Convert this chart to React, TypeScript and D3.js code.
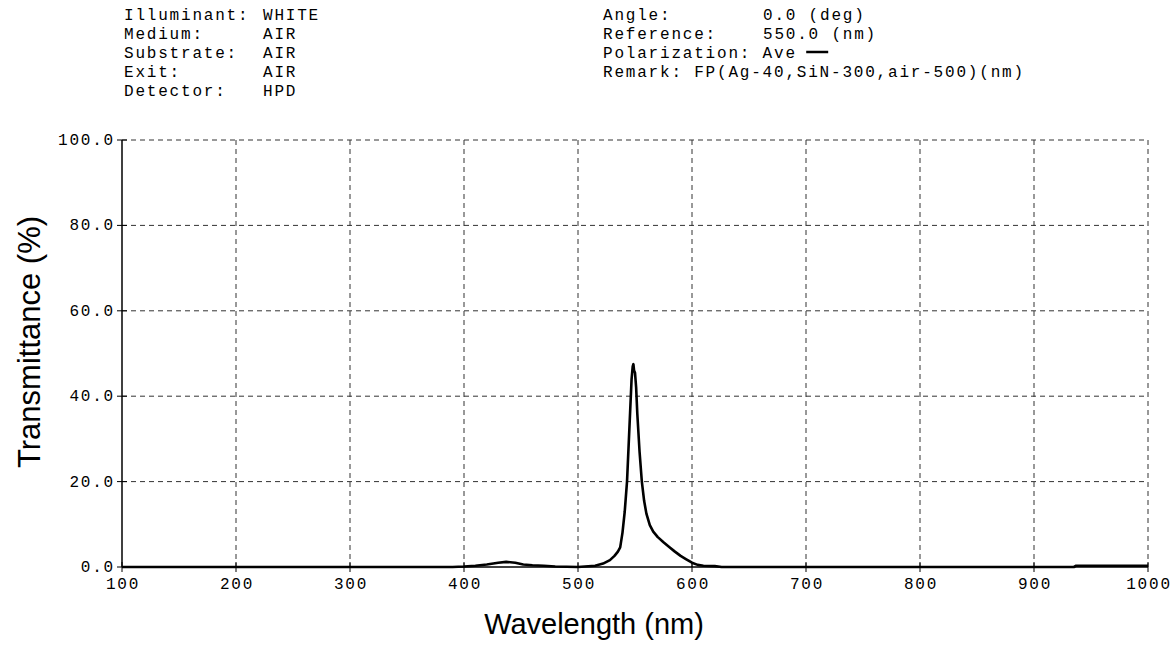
import React from "react";
import * as d3 from "d3";

const wavelengths = [100, 200, 300, 390, 400, 410, 420, 430, 437, 445, 452, 460, 470, 480, 500, 515, 522, 528, 532, 535, 537, 539, 541, 543, 545, 547, 548, 548.6, 549.2, 550, 551, 552, 554, 556, 558, 560, 563, 566, 570, 575, 580, 585, 590, 595, 600, 605, 610, 620, 626, 700, 800, 900, 935, 937, 1000];
const transmittance = [0, 0, 0, 0, 0.1, 0.3, 0.6, 1.0, 1.2, 1.0, 0.6, 0.4, 0.3, 0.1, 0, 0.3, 0.8, 1.6, 2.6, 3.6, 4.6, 8, 13, 20, 32, 44, 47, 47.5, 46, 45.5, 42, 36, 27, 20, 15.5, 12.5, 9.8, 8.3, 7, 5.8, 4.7, 3.6, 2.6, 1.8, 1.0, 0.5, 0.3, 0.2, 0, 0, 0, 0, 0, 0.3, 0.3];

const xTicks = [100, 200, 300, 400, 500, 600, 700, 800, 900, 1000];
const yTicks = [0, 20, 40, 60, 80, 100];

const headerLeft = [
  ["Illuminant:", "WHITE"],
  ["Medium:", "AIR"],
  ["Substrate:", "AIR"],
  ["Exit:", "AIR"],
  ["Detector:", "HPD"],
];
const headerRight = [
  ["Angle:", "0.0 (deg)"],
  ["Reference:", "550.0 (nm)"],
  ["Polarization:", "Ave"],
  ["Remark:", "FP(Ag-40,SiN-300,air-500)(nm)"],
];

const W = 1176;
const H = 660;
const L = 122, R = 1148, T = 140, B = 567;
const CW = 11.4;
const mono: React.CSSProperties = { fontFamily: "'Liberation Mono', monospace", fontSize: 16, letterSpacing: 1.8 };
const sans = "'Liberation Sans', Arial, sans-serif";

export default function App() {
  const x = d3.scaleLinear().domain([100, 1000]).range([L, R]);
  const y = d3.scaleLinear().domain([0, 100]).range([B, T]);
  const line = d3.line<number>().x((_, i) => x(wavelengths[i])).y((d) => y(d));
  const path = line(transmittance) || "";
  const rowY = [20, 39, 58, 77, 96];

  return (
    <svg width={W} height={H} style={{ position: "absolute", left: 0, top: 0, background: "#fff" }}>
      {headerLeft.map((r, i) => (
        <g key={"l" + i} style={mono} fill="#000">
          <text x={124} y={rowY[i]}>{r[0]}</text>
          <text x={263} y={rowY[i]}>{r[1]}</text>
        </g>
      ))}
      {headerRight.map((r, i) => (
        <g key={"r" + i} style={mono} fill="#000">
          <text x={603} y={rowY[i]}>{r[0]}</text>
          <text x={i === 3 ? 603 + 8 * CW : i === 2 ? 603 + 14 * CW : 763} y={rowY[i]}>{r[1]}</text>
        </g>
      ))}
      <line x1={603 + 18 * CW - 2} x2={603 + 18 * CW + 20} y1={rowY[2] - 6} y2={rowY[2] - 6} stroke="#000" strokeWidth={2.5} />

      {/* grid */}
      {xTicks.slice(1).map((t) => (
        <line key={"gx" + t} x1={x(t)} x2={x(t)} y1={T} y2={B} stroke="#333" strokeDasharray="5,4" strokeWidth={1} />
      ))}
      {yTicks.slice(1).map((t) => (
        <line key={"gy" + t} x1={L} x2={R} y1={y(t)} y2={y(t)} stroke="#333" strokeDasharray="5,4" strokeWidth={1} />
      ))}

      {/* axes */}
      <line x1={L} x2={R} y1={B} y2={B} stroke="#000" strokeWidth={1.5} />
      <line x1={L} x2={L} y1={T} y2={B} stroke="#000" strokeWidth={1.5} />
      {xTicks.map((t) => (
        <g key={"tx" + t}>
          <line x1={x(t)} x2={x(t)} y1={B - 5} y2={B + 5} stroke="#000" strokeWidth={1} />
          <text x={x(t)} y={589} textAnchor="middle" style={mono} fill="#000" dx={1}>{t}</text>
        </g>
      ))}
      {yTicks.map((t) => (
        <g key={"ty" + t}>
          <line x1={L - 5} x2={L + 5} y1={y(t)} y2={y(t)} stroke="#000" strokeWidth={1} />
          <text x={115} y={y(t) + 5} textAnchor="end" style={mono} fill="#000">{t.toFixed(1)}</text>
        </g>
      ))}

      {/* curve */}
      <path d={path} fill="none" stroke="#000" strokeWidth={2.6} strokeLinejoin="round" />

      {/* titles */}
      <text x={594} y={634} textAnchor="middle" fontFamily={sans} fontSize={29} fill="#000">Wavelength (nm)</text>
      <text transform={`translate(40,342) rotate(-90)`} textAnchor="middle" fontFamily={sans} fontSize={31} fill="#000">Transmittance (%)</text>
    </svg>
  );
}
